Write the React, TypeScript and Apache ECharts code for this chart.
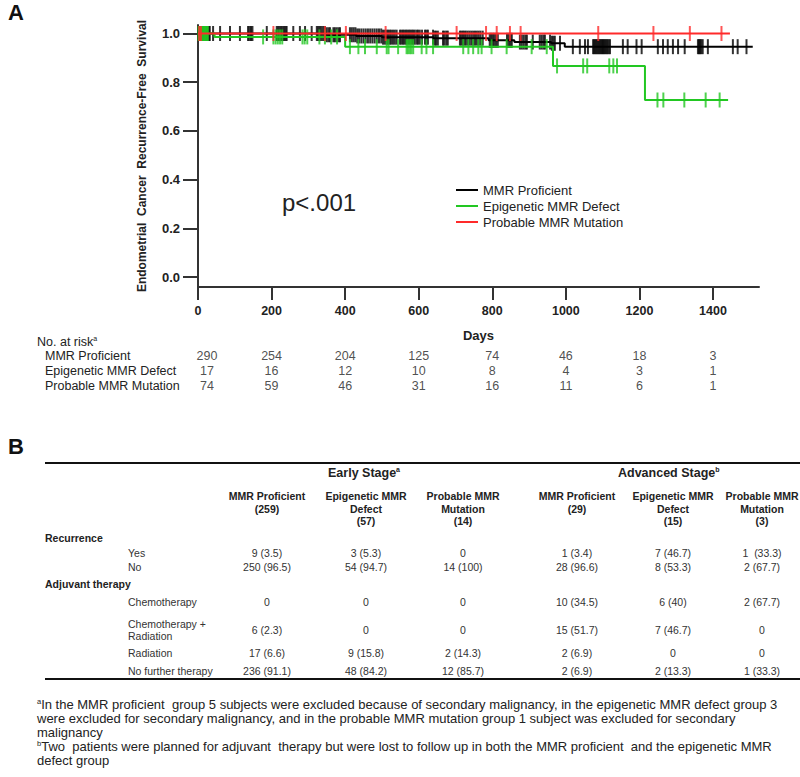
import React, { useEffect, useRef } from "react";
import * as echarts from "echarts";

const FONT = '"Liberation Sans", Arial, Helvetica, sans-serif';

// ---------- Part A data ----------
const groups = ["MMR Proficient", "Epigenetic MMR Defect", "Probable MMR Mutation"];
const groupColors = ["#000000", "#22c722", "#ff2a2a"];

// Kaplan-Meier steps: [day, survival from that day on]
const proficientSteps = [[0, 1], [350, 0.995], [430, 0.99], [500, 0.985], [640, 0.981], [790, 0.972], [860, 0.965], [960, 0.96], [997, 0.946]];
const proficientEnd = 1508;
const proficientCensor = [2, 4, 6, 8, 10, 12, 14, 16, 18, 20, 23, 26, 29, 32, 41, 60, 87, 114, 136, 140, 144, 148, 187, 214, 218, 222, 226, 230, 234, 238, 241, 259, 277, 291, 309, 323, 327, 331, 335, 340, 345, 350, 355, 359, 368, 372, 377, 382, 386, 413, 418, 423, 428, 433, 438, 444, 450, 456, 462, 468, 474, 480, 486, 492, 498, 503, 508, 513, 517, 521, 525, 530, 535, 540, 549, 553, 557, 561, 565, 569, 573, 577, 581, 585, 589, 594, 598, 603, 609, 617, 621, 625, 639, 643, 647, 652, 666, 670, 675, 679, 712, 716, 720, 724, 728, 733, 738, 743, 748, 753, 758, 763, 768, 774, 793, 797, 801, 805, 810, 815, 840, 845, 849, 853, 875, 880, 885, 890, 894, 910, 929, 934, 939, 943, 957, 962, 966, 970, 984, 1019, 1038, 1052, 1060, 1074, 1077, 1080, 1083, 1086, 1089, 1092, 1095, 1098, 1101, 1104, 1107, 1110, 1113, 1116, 1120, 1155, 1168, 1192, 1206, 1250, 1264, 1277, 1291, 1305, 1323, 1359, 1362, 1365, 1368, 1372, 1386, 1454, 1467, 1491];

const epigeneticSteps = [[0, 1], [45, 0.986], [400, 0.946], [965, 0.867], [1215, 0.727]];
const epigeneticEnd = 1441;
const epigeneticCensor = [1, 3, 5, 7, 9, 11, 13, 15, 17, 19, 21, 23, 25, 27, 177, 205, 211, 217, 223, 229, 284, 290, 297, 330, 345, 362, 378, 413, 436, 454, 486, 513, 518, 544, 567, 571, 576, 580, 585, 608, 621, 639, 721, 735, 748, 762, 771, 798, 839, 907, 948, 976, 1047, 1058, 1118, 1129, 1139, 1249, 1265, 1322, 1380, 1418];

const probableSteps = [[0, 1]];
const probableEnd = 1446;
const probableCensor = [3, 8, 205, 345, 402, 510, 703, 783, 812, 848, 877, 1088, 1238, 1337, 1423];

const xTicks = [0, 200, 400, 600, 800, 1000, 1200, 1400];
const yTicks = [0, 0.2, 0.4, 0.6, 0.8, 1.0];

// numbers at risk
const riskDays = [0, 200, 400, 600, 800, 1000, 1200, 1400];
const riskProficient = [290, 254, 204, 125, 74, 46, 18, 3];
const riskEpigenetic = [17, 16, 12, 10, 8, 4, 3, 1];
const riskProbable = [74, 59, 46, 31, 16, 11, 6, 1];

// ---------- Part B data ----------
const stageHeaders = ["Early Stage", "Advanced Stage"];
const stageSup = ["a", "b"];
const colHeaders = [
  "MMR Proficient\n(259)",
  "Epigenetic MMR\nDefect\n(57)",
  "Probable MMR\nMutation\n(14)",
  "MMR Proficient\n(29)",
  "Epigenetic MMR\nDefect\n(15)",
  "Probable MMR\nMutation\n(3)",
];
const sectionLabels = ["Recurrence", "Adjuvant therapy"];
const rowLabels = ["Yes", "No", "Chemotherapy", "Chemotherapy +\nRadiation", "Radiation", "No further therapy"];
const rowYes = ["9 (3.5)", "3 (5.3)", "0", "1 (3.4)", "7 (46.7)", "1  (33.3)"];
const rowNo = ["250 (96.5)", "54 (94.7)", "14 (100)", "28 (96.6)", "8 (53.3)", "2 (67.7)"];
const rowChemo = ["0", "0", "0", "10 (34.5)", "6 (40)", "2 (67.7)"];
const rowChemoRad = ["6 (2.3)", "0", "0", "15 (51.7)", "7 (46.7)", "0"];
const rowRad = ["17 (6.6)", "9 (15.8)", "2 (14.3)", "2 (6.9)", "0", "0"];
const rowNone = ["236 (91.1)", "48 (84.2)", "12 (85.7)", "2 (6.9)", "2 (13.3)", "1 (33.3)"];
const footnotes = [
  { sup: "a", text: "In the MMR proficient  group 5 subjects were excluded because of secondary malignancy, in the epigenetic MMR defect group 3" },
  { sup: "", text: "were excluded for secondary malignancy, and in the probable MMR mutation group 1 subject was excluded for secondary" },
  { sup: "", text: "malignancy" },
  { sup: "b", text: "Two  patients were planned for adjuvant  therapy but were lost to follow up in both the MMR proficient  and the epigenetic MMR" },
  { sup: "", text: "defect group" },
];

// ---------- layout (positions only) ----------
const tableColX = [267, 366, 463, 577, 673, 762];
const stageX = [328, 618];
const tableRowY = [553, 567, 602, 630, 653, 671];
const sectionY = [538, 584];
const footY = [704, 718, 732, 746, 760];

function survivalAt(steps: number[][], t: number) {
  let s = steps[0][1];
  for (const [d, v] of steps) if (d <= t) s = v;
  return s;
}

export default function App() {
  const ref = useRef<HTMLDivElement>(null);
  useEffect(() => {
    if (!ref.current) return;
    const chart = echarts.init(ref.current, null, { renderer: "svg" });

    const stepsList = [proficientSteps, epigeneticSteps, probableSteps];
    const endList = [proficientEnd, epigeneticEnd, probableEnd];
    const censorList = [proficientCensor, epigeneticCensor, probableCensor];
    const riskList = [riskProficient, riskEpigenetic, riskProbable];

    const series: any[] = [];
    groups.forEach((g, i) => {
      const steps = stepsList[i];
      const last = steps[steps.length - 1][1];
      series.push({
        type: "line",
        name: g,
        xAxisIndex: 0,
        yAxisIndex: 0,
        data: [...steps, [endList[i], last]],
        step: "end",
        showSymbol: false,
        symbol: "none",
        lineStyle: { color: groupColors[i], width: 2 },
        itemStyle: { color: groupColors[i] },
        z: 2 + i,
        silent: true,
      });
      series.push({
        type: "scatter",
        name: g + " (censored)",
        xAxisIndex: 0,
        yAxisIndex: 0,
        data: censorList[i].map((d) => [d, survivalAt(steps, d)]),
        symbol: "rect",
        symbolSize: [2, 15],
        itemStyle: { color: groupColors[i] },
        z: 2 + i,
        silent: true,
      });
    });

    const riskData: any[] = [];
    riskList.forEach((vals, gi) => {
      vals.forEach((v, j) => {
        riskData.push({
          value: [riskDays[j], gi, v],
          label: riskDays[j] === 0 ? { offset: [9, 0] } : undefined,
        });
      });
    });
    series.push({
      type: "scatter",
      name: "No. at risk",
      xAxisIndex: 1,
      yAxisIndex: 1,
      data: riskData,
      symbolSize: 1,
      itemStyle: { color: "transparent" },
      silent: true,
      label: {
        show: true,
        position: "inside",
        formatter: (p: any) => String(p.value[2]),
        color: "#222",
        fontSize: 12.5,
        fontFamily: FONT,
      },
    });

    const txt = (text: string, x: number, y: number, o: any = {}) => ({
      type: "text",
      x,
      y,
      silent: true,
      style: {
        text,
        fill: o.fill || "#222",
        font: o.font || `10.5px ${FONT}`,
        align: o.align || "left",
        verticalAlign: o.va || "middle",
        textAlign: o.align || "left",
        textVerticalAlign: o.va || "middle",
        lineHeight: o.lineHeight,
        rich: o.rich,
      },
    });

    const graphics: any[] = [];
    graphics.push(txt("A", 8, 12, { font: `bold 22px ${FONT}`, fill: "#111" }));
    graphics.push(txt("B", 8, 446, { font: `bold 22px ${FONT}`, fill: "#111" }));
    graphics.push(txt("p<.001", 282, 202, { font: `24px ${FONT}`, fill: "#222" }));
    graphics.push(
      txt("{n|No. at risk}{s|a}", 37, 342, {
        rich: {
          n: { fontSize: 12.5, fontFamily: FONT, fill: "#222", lineHeight: 14 },
          s: { fontSize: 7, fontFamily: FONT, fill: "#222", verticalAlign: "top", lineHeight: 14 },
        },
      })
    );

    // Part B table
    graphics.push({ type: "line", silent: true, shape: { x1: 45, y1: 463, x2: 800, y2: 463 }, style: { stroke: "#111", lineWidth: 2 } });
    graphics.push({ type: "line", silent: true, shape: { x1: 45, y1: 679, x2: 800, y2: 679 }, style: { stroke: "#111", lineWidth: 2 } });
    stageHeaders.forEach((h, i) => {
      graphics.push(
        txt(`{n|${h}}{s|${stageSup[i]}}`, stageX[i], 473, {
          rich: {
            n: { fontSize: 12.5, fontWeight: "bold", fontFamily: FONT, fill: "#222", lineHeight: 14 },
            s: { fontSize: 7, fontWeight: "bold", fontFamily: FONT, fill: "#222", verticalAlign: "top", lineHeight: 14 },
          },
        })
      );
    });
    colHeaders.forEach((h, i) => {
      graphics.push(txt(h, tableColX[i], 490, { font: `bold 10.5px ${FONT}`, align: "center", va: "top", lineHeight: 12.5 }));
    });
    sectionLabels.forEach((s, i) => {
      graphics.push(txt(s, 45, sectionY[i], { font: `bold 10.5px ${FONT}` }));
    });
    const bodyRows = [rowYes, rowNo, rowChemo, rowChemoRad, rowRad, rowNone];
    rowLabels.forEach((r, i) => {
      graphics.push(txt(r, 128, tableRowY[i], { font: `10.5px ${FONT}`, fill: "#333", lineHeight: 12 }));
      bodyRows[i].forEach((v, j) => {
        graphics.push(txt(v, tableColX[j], tableRowY[i], { font: `10.5px ${FONT}`, fill: "#333", align: "center" }));
      });
    });
    footnotes.forEach((f, i) => {
      graphics.push(
        txt(f.sup ? `{s|${f.sup}}{n|${f.text}}` : `{n|${f.text}}`, 37, footY[i], {
          rich: {
            n: { fontSize: 13, fontFamily: FONT, fill: "#222", lineHeight: 14 },
            s: { fontSize: 7.5, fontFamily: FONT, fill: "#222", verticalAlign: "top", lineHeight: 14 },
          },
        })
      );
    });

    chart.setOption({
      animation: false,
      backgroundColor: "#ffffff",
      textStyle: { fontFamily: FONT },
      grid: [
        { left: 198, top: 25, right: 41, bottom: 490, containLabel: false },
        { left: 198, top: 348.5, right: 41, height: 45, containLabel: false },
      ],
      legend: {
        data: groups,
        orient: "vertical",
        left: 451,
        top: 178.5,
        icon: "rect",
        itemWidth: 22,
        itemHeight: 2,
        itemGap: 3,
        selectedMode: false,
        textStyle: { fontSize: 13, color: "#222", fontFamily: FONT, lineHeight: 13 },
      },
      xAxis: [
        {
          type: "value",
          gridIndex: 0,
          min: 0,
          max: 1525,
          axisLine: { show: true, onZero: false, lineStyle: { color: "#333", width: 2 } },
          axisTick: { show: true, length: 13, lineStyle: { color: "#333", width: 2 }, customValues: xTicks },
          axisLabel: {
            customValues: xTicks,
            formatter: (v: number) => String(v),
            margin: 17,
            fontSize: 12.5,
            fontWeight: "bold",
            color: "#222",
            fontFamily: FONT,
          },
          splitLine: { show: false },
          name: "Days",
          nameLocation: "middle",
          nameGap: 42,
          nameTextStyle: { fontSize: 13, fontWeight: "bold", color: "#222", fontFamily: FONT },
        },
        {
          type: "value",
          gridIndex: 1,
          min: 0,
          max: 1525,
          show: false,
        },
      ],
      yAxis: [
        {
          type: "value",
          gridIndex: 0,
          min: -0.041,
          max: 1.035,
          axisLine: { show: true, onZero: false, lineStyle: { color: "#333", width: 2 } },
          axisTick: { show: true, length: 15, lineStyle: { color: "#333", width: 2 }, customValues: yTicks },
          axisLabel: {
            customValues: yTicks,
            formatter: (v: number) => v.toFixed(1),
            margin: 18,
            fontSize: 13,
            fontWeight: "bold",
            color: "#222",
            fontFamily: FONT,
          },
          splitLine: { show: false },
          name: "Endometrial  Cancer  Recurrence-Free  Survival",
          nameLocation: "middle",
          nameRotate: 90,
          nameGap: 50,
          nameTextStyle: { fontSize: 12, fontWeight: "bold", color: "#222", fontFamily: FONT },
        },
        {
          type: "category",
          gridIndex: 1,
          inverse: true,
          data: groups,
          axisLine: { show: false },
          axisTick: { show: false },
          splitLine: { show: false },
          axisLabel: { interval: 0, align: "left", margin: 153, fontSize: 12.5, color: "#222", fontFamily: FONT },
        },
      ],
      graphic: graphics,
      series,
    });
    return () => chart.dispose();
  }, []);
  return <div ref={ref} style={{ position: "absolute", left: 0, top: 0, width: 800, height: 777, background: "#fff" }} />;
}
